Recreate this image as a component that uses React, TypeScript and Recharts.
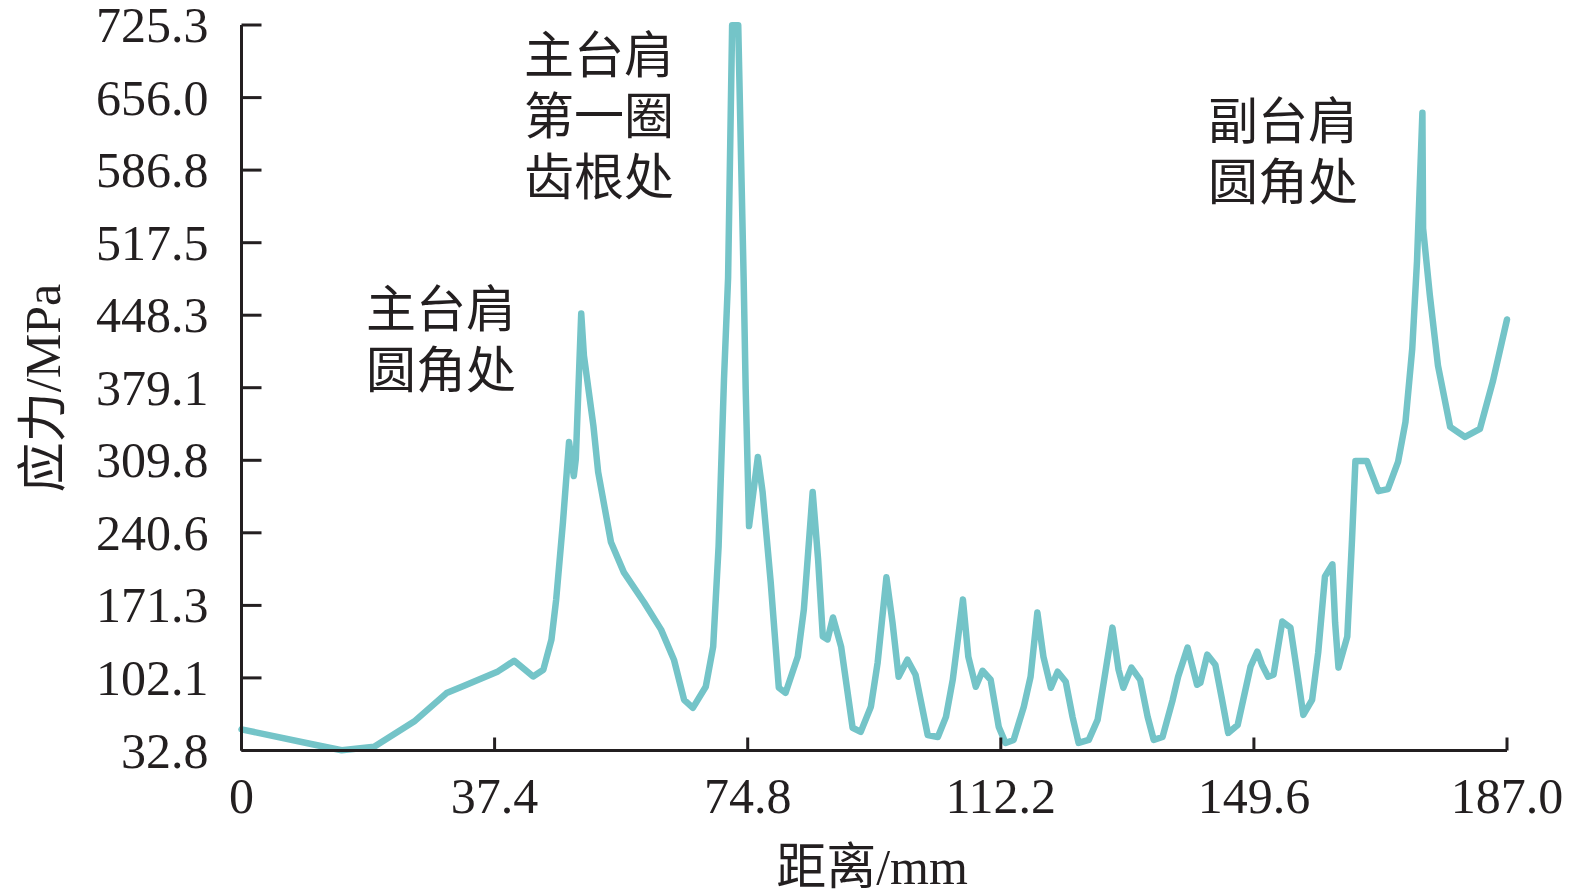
import React from "react";
import { LineChart, Line, XAxis, YAxis } from "recharts";

const distances = [
  0, 10.3, 14.8, 19.6, 25.5, 30.3, 32.9, 37.9, 40.3, 43.1, 44.6, 45.8, 46.5, 47.5, 48.4, 49.1, 49.4,
  50.2, 50.6, 52.0, 52.7, 54.6, 56.5, 59.5, 62.0, 63.9, 65.4, 66.7, 68.6, 69.7, 70.5, 71.3, 71.9,
  72.5, 73.4, 74.2, 74.5, 75.0, 76.3, 77.0, 78.2, 79.4, 80.4, 82.2, 83.1, 84.4, 85.2, 85.9, 86.6,
  87.4, 88.6, 90.3, 91.5, 93.0, 94.0, 95.3, 96.2, 97.1, 98.4, 99.6, 101.4, 102.9, 104.1, 105.1,
  106.6, 107.4, 108.5, 109.5, 110.7, 111.9, 112.9, 114.1, 115.6, 116.6, 117.6, 118.5, 119.6, 120.6,
  121.8, 122.8, 123.7, 125.2, 126.5, 127.4, 128.7, 129.6, 130.3, 131.5, 132.8, 133.9, 134.8, 136.1,
  137.6, 138.4, 139.8, 141.2, 141.7, 142.7, 143.9, 144.9, 145.8, 147.2, 149.1, 150.1, 150.8, 151.7,
  152.5, 153.8, 155.0, 156.0, 156.9, 158.2, 159.1, 160.1, 161.2, 161.6, 162.1, 163.4, 164.1, 164.6,
  166.3, 168.0, 169.4, 170.9, 172.0, 173.0, 173.7, 174.5, 174.6, 175.6, 176.8, 178.6, 180.8, 183.0,
  184.9, 187.0,
];

const stresses = [
  53, 39, 33, 36.4, 60.4, 87.6, 94.6, 108.3, 118.5, 103.5, 109.9, 138.6, 176.9, 250.7, 327.3, 294.8,
  311, 449.9, 409.7, 342.6, 298.6, 231.5, 202.8, 174.1, 148.2, 119.5, 81.2, 73.5, 93.6, 132, 227.8,
  387.7, 483.5, 725, 725, 483.5, 378.2, 247, 313, 279.5, 193.3, 92.7, 87.9, 122.5, 167.5, 279.5,
  215.4, 141.6, 138.8, 159.8, 132, 54.5, 50.6, 74.6, 116.6, 198.1, 154.9, 103.2, 119.5, 105.1, 47.6,
  45.7, 64.9, 100.3, 176.9, 122.3, 93.6, 108.9, 100.3, 55.3, 40, 42.9, 74.6, 103.2, 164.5, 122.3,
  92.7, 108, 98.4, 64.9, 40, 42.9, 62, 97.5, 150.1, 109.9, 92.7, 111.9, 100.3, 64.9, 42.9, 45.7,
  81.2, 103.2, 131, 95.5, 97.5, 124.3, 114.7, 81.2, 49.6, 57.2, 112.8, 127.2, 114.7, 103.2, 105.1,
  155.9, 150.1, 107, 66.8, 81.2, 126.2, 199, 210.5, 154.9, 111.9, 141.6, 234.4, 309.1, 309.1, 280.4,
  282.3, 308.2, 346.5, 416.4, 499.7, 641.5, 531.3, 467.2, 400.1, 341.7, 332.1, 339.8, 384.8, 444.2,
];

const yTicks = [32.8, 102.1, 171.3, 240.6, 309.8, 379.1, 448.3, 517.5, 586.8, 656.0, 725.3];
const xTicks = [0, 37.4, 74.8, 112.2, 149.6, 187.0];

const annotations = [
  { lines: ["主台肩", "第一圈", "齿根处"], left: 524, top: 26 },
  { lines: ["主台肩", "圆角处"], left: 366, top: 280 },
  { lines: ["副台肩", "圆角处"], left: 1208, top: 92 },
];

const data = distances.map((d, i) => ({ d, s: stresses[i] }));

const ink = "#231f20";
const serif = "'Liberation Serif', 'Times New Roman', serif";
const cjk = "'Liberation Serif', 'Noto Sans CJK SC', serif";

function YTick(props: any) {
  const { x, y, payload } = props;
  return (
    <g>
      <line x1={x} y1={y} x2={x + 20} y2={y} stroke={ink} strokeWidth={3} />
      <text x={x - 33} y={y + 17} textAnchor="end" fontSize={50} fontFamily={serif} fill={ink}>
        {payload.value.toFixed(1)}
      </text>
    </g>
  );
}

function XTick(props: any) {
  const { x, y, payload } = props;
  const v = payload.value;
  return (
    <g>
      <line x1={x} y1={y} x2={x} y2={y - 13} stroke={ink} strokeWidth={3} />
      <text x={x} y={y + 62} textAnchor="middle" fontSize={50} fontFamily={serif} fill={ink}>
        {v === 0 ? "0" : v.toFixed(1)}
      </text>
    </g>
  );
}

export default function App() {
  return (
    <div style={{ position: "absolute", left: 0, top: 0, width: 1575, height: 896, background: "#fff" }}>
      <LineChart width={1575} height={896} data={data} margin={{ top: 25, right: 68, bottom: 0, left: 0 }}>
        <XAxis
          dataKey="d"
          type="number"
          domain={[0, 187]}
          ticks={xTicks}
          interval={0}
          height={145.5}
          tickSize={0}
          tickMargin={0}
          tickLine={false}
          axisLine={{ stroke: ink, strokeWidth: 3 }}
          tick={<XTick />}
        />
        <YAxis
          type="number"
          domain={[32.8, 725.3]}
          ticks={yTicks}
          interval={0}
          width={241.5}
          tickSize={0}
          tickMargin={0}
          tickLine={false}
          axisLine={{ stroke: ink, strokeWidth: 3 }}
          tick={<YTick />}
        />
        <Line
          dataKey="s"
          type="linear"
          stroke="#74c4c8"
          strokeWidth={6.5}
          dot={false}
          strokeLinejoin="round"
          strokeLinecap="round"
          isAnimationActive={false}
        />
      </LineChart>
      <div
        style={{
          position: "absolute",
          left: 38,
          top: 388,
          transform: "translate(-50%, -50%) rotate(-90deg)",
          fontFamily: cjk,
          fontSize: 50,
          color: ink,
          whiteSpace: "nowrap",
        }}
      >
        应力/MPa
      </div>
      <div
        style={{
          position: "absolute",
          left: 872,
          top: 862,
          transform: "translate(-50%, -50%)",
          fontFamily: cjk,
          fontSize: 50,
          color: ink,
          whiteSpace: "nowrap",
        }}
      >
        距离/mm
      </div>
      {annotations.map((a, i) => (
        <div
          key={i}
          style={{
            position: "absolute",
            left: a.left,
            top: a.top,
            fontFamily: cjk,
            fontSize: 50,
            lineHeight: "61px",
            color: ink,
            whiteSpace: "nowrap",
          }}
        >
          {a.lines.map((l, j) => (
            <div key={j}>{l}</div>
          ))}
        </div>
      ))}
    </div>
  );
}
